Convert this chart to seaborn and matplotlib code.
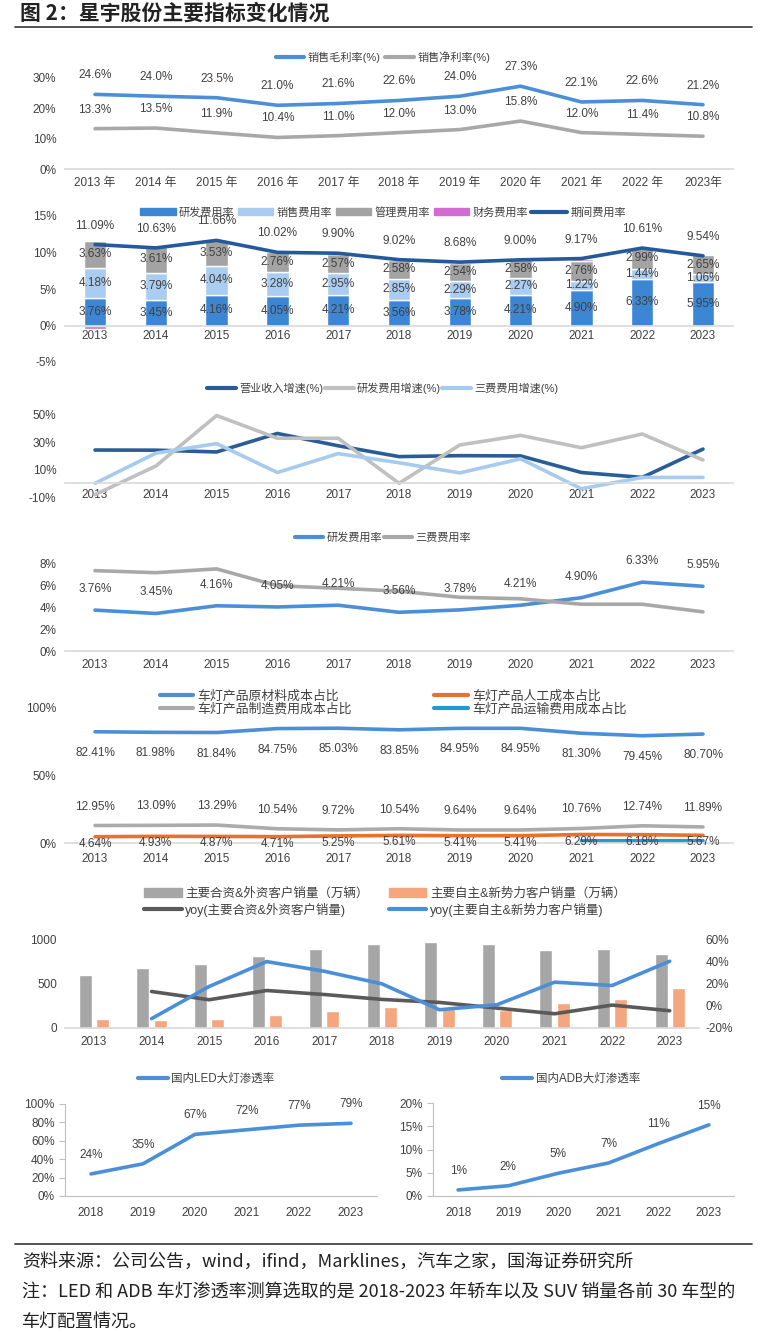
import numpy as np
import pandas as pd
import matplotlib
matplotlib.use('Agg')
import matplotlib.pyplot as plt
import seaborn as sns
from matplotlib.lines import Line2D
from matplotlib.patches import Patch

sns.set_style('white')
FONTS = ['Liberation Sans Narrow', 'Liberation Sans', 'Noto Sans CJK SC', 'DejaVu Sans']
plt.rcParams['font.family'] = FONTS
plt.rcParams['axes.unicode_minus'] = False

W, H = 766, 1332
TXT = '#404040'
AXC = '#D9D9D9'

# ---------------- data ----------------
years = ['2013', '2014', '2015', '2016', '2017', '2018', '2019', '2020', '2021', '2022', '2023']
years_cn = ['2013 年', '2014 年', '2015 年', '2016 年', '2017 年', '2018 年', '2019 年',
            '2020 年', '2021 年', '2022 年', '2023年']

# panel 1: margins
gross_margin = [24.6, 24.0, 23.5, 21.0, 21.6, 22.6, 24.0, 27.3, 22.1, 22.6, 21.2]
net_margin = [13.3, 13.5, 11.9, 10.4, 11.0, 12.0, 13.0, 15.8, 12.0, 11.4, 10.8]

# panel 2: expense ratios
rd_rate = [3.76, 3.45, 4.16, 4.05, 4.21, 3.56, 3.78, 4.21, 4.90, 6.33, 5.95]
sales_rate = [4.18, 3.79, 4.04, 3.28, 2.95, 2.85, 2.29, 2.27, 1.22, 1.44, 1.06]
admin_rate = [3.63, 3.61, 3.53, 2.76, 2.57, 2.58, 2.54, 2.58, 2.76, 2.99, 2.65]
fin_rate = [-0.48, -0.22, -0.07, -0.07, 0.17, 0.03, 0.07, -0.06, 0.29, -0.15, -0.12]
period_rate = [11.09, 10.63, 11.66, 10.02, 9.90, 9.02, 8.68, 9.00, 9.17, 10.61, 9.54]

# panel 3: growth
rev_growth = [24.3, 24.2, 22.9, 36.4, 27.4, 19.5, 20.2, 20.0, 7.9, 4.3, 25.0]
rd_growth = [-8.3, 12.6, 49.5, 32.9, 32.9, 0.0, 28.0, 35.0, 26.0, 36.0, 17.0]
fee_growth = [0.0, 22.0, 29.0, 7.9, 21.7, 15.0, 7.6, 17.9, -4.0, 4.3, 4.3]

# panel 4: R&D rate vs three-fee rate
three_fee_rate = [7.39, 7.20, 7.55, 6.00, 5.77, 5.50, 4.94, 4.80, 4.30, 4.30, 3.60]

# panel 5: lamp cost structure
raw_share = [82.41, 81.98, 81.84, 84.75, 85.03, 83.85, 84.95, 84.95, 81.30, 79.45, 80.70]
manuf_share = [12.95, 13.09, 13.29, 10.54, 9.72, 10.54, 9.64, 9.64, 10.76, 12.74, 11.89]
labor_share = [4.64, 4.93, 4.87, 4.71, 5.25, 5.61, 5.41, 5.41, 6.29, 6.18, 5.67]
transport_years = ['2021', '2022', '2023']
transport_share = [1.65, 1.63, 1.74]

# panel 6: customer sales
jv_sales = [593, 675, 716, 810, 892, 940, 970, 940, 877, 884, 836]
local_sales = [97, 90, 104, 146, 190, 231, 213, 205, 276, 325, 455]
yoy_years = ['2014', '2015', '2016', '2017', '2018', '2019', '2020', '2021', '2022', '2023']
jv_yoy = [12.8, 5.4, 13.7, 10.1, 5.7, 3.0, -2.1, -7.2, 0.6, -4.5]
local_yoy = [-11.6, 17.3, 39.7, 31.0, 19.7, -3.6, 0.9, 21.2, 18.2, 40.0]

# panel 7: penetration
pen_years = ['2018', '2019', '2020', '2021', '2022', '2023']
led_pen = [24, 35, 67, 72, 77, 79]
adb_pen = [1.3, 2.2, 4.9, 7.1, 11.3, 15.3]
adb_labels = ['1%', '2%', '5%', '7%', '11%', '15%']

# ---------------- helpers ----------------
fig = plt.figure(figsize=(W / 100, H / 100), dpi=100)


def px_axes(x0, y0, x1, y1):
    return fig.add_axes([x0 / W, 1 - y1 / H, (x1 - x0) / W, (y1 - y0) / H])


def base_style(ax, cats, ylim, yticks, fmt='{:.0f}%', zero_spine=False):
    n = len(cats)
    ax.set_xlim(-0.5, n - 0.5)
    ax.set_ylim(*ylim)
    ax.set_xticks(np.arange(n))
    ax.set_xticklabels(cats)
    ax.set_yticks(yticks)
    ax.set_yticklabels([fmt.format(v) for v in yticks])
    for s in ['top', 'right', 'left']:
        ax.spines[s].set_visible(False)
    ax.spines['bottom'].set_color(AXC)
    ax.spines['bottom'].set_linewidth(1.2)
    if zero_spine:
        ax.spines['bottom'].set_position(('data', 0))
    ax.tick_params(axis='both', length=0, labelsize=8.5, labelcolor=TXT, pad=6)
    ax.set_xlabel('')
    ax.set_ylabel('')
    ax.grid(False)


def label_points(ax, xs, ys, texts, dy, size=8.5):
    for x, y, t in zip(xs, ys, texts):
        ax.annotate(t, (x, y), xytext=(0, dy), textcoords='offset pixels',
                    ha='center', va='center', fontsize=size, color=TXT)


def top_legend(ax, handles, labels, x, y, ncol, size=8, hl=2.6, cs=0.4, rs=0.25):
    ax.legend(handles, labels, loc='center', bbox_to_anchor=(x / W, 1 - y / H),
              bbox_transform=fig.transFigure, ncol=ncol, frameon=False,
              fontsize=size, handlelength=hl, handletextpad=0.3,
              columnspacing=cs, labelspacing=rs, labelcolor=TXT)


LW = 2.6
BLUE = '#4A8FD8'
GRAY = '#A8A8A8'
xp = np.arange(len(years))

# ---------------- title ----------------
fig.text(20 / W, 1 - 13 / H, '图 2：星宇股份主要指标变化情况', fontsize=15, fontweight='bold',
         color='#222222', va='center', ha='left', family=['Noto Sans CJK SC', 'DejaVu Sans'])
fig.add_artist(Line2D([15 / W, 752 / W], [1 - 27 / H] * 2, color='#444444', lw=1.3))

# ---------------- panel 1 ----------------
ax1 = px_axes(64.6, 78, 733.4, 169)
sns.lineplot(x=xp, y=gross_margin, ax=ax1, color=BLUE, lw=LW)
sns.lineplot(x=xp, y=net_margin, ax=ax1, color=GRAY, lw=LW)
base_style(ax1, years_cn, (0, 30), [0, 10, 20, 30])
label_points(ax1, xp, gross_margin, [f'{v:.1f}%' for v in gross_margin], 19)
label_points(ax1, xp, net_margin, [f'{v:.1f}%' for v in net_margin], 19)
top_legend(ax1, [Line2D([], [], color=BLUE, lw=3), Line2D([], [], color=GRAY, lw=3)],
           ['销售毛利率(%)', '销售净利率(%)'], 383, 57, 2)

# ---------------- panel 2 ----------------
C_RD, C_SA, C_AD, C_FI, C_PE = '#3D86D4', '#A9CCF0', '#A3A3A3', '#D46BD0', '#245A9C'
ax2 = px_axes(64.6, 216, 733.4, 362)
bw = 0.37
sns.barplot(x=years, y=rd_rate, ax=ax2, color=C_RD, width=bw, errorbar=None, saturation=1)
sns.barplot(x=years, y=sales_rate, ax=ax2, color=C_SA, width=bw, errorbar=None, saturation=1,
            bottom=np.array(rd_rate))
sns.barplot(x=years, y=admin_rate, ax=ax2, color=C_AD, width=bw, errorbar=None, saturation=1,
            bottom=np.array(rd_rate) + np.array(sales_rate))
fin_bottom = np.where(np.array(fin_rate) > 0,
                      np.array(rd_rate) + np.array(sales_rate) + np.array(admin_rate), 0)
sns.barplot(x=years, y=fin_rate, ax=ax2, color=C_FI, width=bw, errorbar=None, saturation=1,
            bottom=fin_bottom)
sns.lineplot(x=xp, y=period_rate, ax=ax2, color=C_PE, lw=LW)
base_style(ax2, years, (-5, 15), [-5, 0, 5, 10, 15], zero_spine=True)
ax2.tick_params(axis='x', pad=3)
rd_a, sa_a, ad_a = np.array(rd_rate), np.array(sales_rate), np.array(admin_rate)
label_points(ax2, xp, rd_a / 2, [f'{v:.2f}%' for v in rd_rate], 0)
label_points(ax2, xp, rd_a + sa_a / 2, [f'{v:.2f}%' for v in sales_rate], 0)
label_points(ax2, xp, rd_a + sa_a + ad_a / 2, [f'{v:.2f}%' for v in admin_rate], 0)
label_points(ax2, xp, period_rate, [f'{v:.2f}%' for v in period_rate], 19)
top_legend(ax2, [Patch(color=C_RD), Patch(color=C_SA), Patch(color=C_AD), Patch(color=C_FI),
                 Line2D([], [], color=C_PE, lw=3)],
           ['研发费用率', '销售费用率', '管理费用率', '财务费用率', '期间费用率'], 383, 212, 5,
           hl=3.2, cs=0.3)

# ---------------- panel 3 ----------------
C_REV, C_RDG, C_FEE = '#2A5C96', '#C0C0C0', '#A6CBEE'
ax3 = px_axes(64.6, 408, 733.4, 497)
sns.lineplot(x=xp, y=rev_growth, ax=ax3, color=C_REV, lw=LW)
sns.lineplot(x=xp, y=rd_growth, ax=ax3, color=C_RDG, lw=LW)
sns.lineplot(x=xp, y=fee_growth, ax=ax3, color=C_FEE, lw=LW)
base_style(ax3, years, (-10, 55), [-10, 10, 30, 50], zero_spine=True)
ax3.tick_params(axis='x', pad=4)
top_legend(ax3, [Line2D([], [], color=c, lw=3) for c in (C_REV, C_RDG, C_FEE)],
           ['营业收入增速(%)', '研发费用增速(%)', '三费费用增速(%)'], 383, 388, 3, cs=0.1)

# ---------------- panel 4 ----------------
ax4 = px_axes(64.6, 564, 733.4, 651)
sns.lineplot(x=xp, y=rd_rate, ax=ax4, color=BLUE, lw=LW)
sns.lineplot(x=xp, y=three_fee_rate, ax=ax4, color=GRAY, lw=LW)
base_style(ax4, years, (0, 8), [0, 2, 4, 6, 8])
label_points(ax4, xp, rd_rate, [f'{v:.2f}%' for v in rd_rate], 21)
top_legend(ax4, [Line2D([], [], color=BLUE, lw=3), Line2D([], [], color=GRAY, lw=3)],
           ['研发费用率', '三费费用率'], 383, 538, 2, cs=0.1)

# ---------------- panel 5 ----------------
C_RAW, C_LAB, C_MAN, C_TRA = '#4A8FD8', '#E8712B', '#ABABAB', '#1F9AD6'
ax5 = px_axes(64.6, 708, 733.4, 843)
sns.lineplot(x=xp, y=raw_share, ax=ax5, color=C_RAW, lw=LW)
sns.lineplot(x=xp, y=manuf_share, ax=ax5, color=C_MAN, lw=LW)
sns.lineplot(x=xp, y=labor_share, ax=ax5, color=C_LAB, lw=LW)
sns.lineplot(x=[years.index(y) for y in transport_years], y=transport_share, ax=ax5,
             color=C_TRA, lw=LW)
base_style(ax5, years, (0, 100), [0, 50, 100])
ax5.tick_params(axis='x', pad=7)
label_points(ax5, xp, raw_share, [f'{v:.2f}%' for v in raw_share], -21)
label_points(ax5, xp, manuf_share, [f'{v:.2f}%' for v in manuf_share], 19)
label_points(ax5, xp, labor_share, [f'{v:.2f}%' for v in labor_share], -7)
top_legend(ax5, [Line2D([], [], color=c, lw=3) for c in (C_RAW, C_MAN, C_LAB, C_TRA)],
           ['车灯产品原材料成本占比', '车灯产品制造费用成本占比', '车灯产品人工成本占比',
            '车灯产品运输费用成本占比'], 393, 703, 2, size=9.3, cs=6.4, rs=0.05)

# ---------------- panel 6 ----------------
C_JV, C_LO, C_JVY = '#A6A6A6', '#F4A67F', '#5A5A5A'
ax6 = px_axes(65.2, 939, 698.5, 1028)
sales_df = pd.DataFrame({
    'year': years * 2,
    'group': ['jv'] * len(years) + ['local'] * len(years),
    'value': jv_sales + local_sales,
})
sns.barplot(data=sales_df, x='year', y='value', hue='group', ax=ax6,
            palette={'jv': C_JV, 'local': C_LO}, width=0.6, gap=0.25,
            errorbar=None, saturation=1, legend=False)
base_style(ax6, years, (0, 1000), [0, 500, 1000], fmt='{:.0f}')
ax6r = ax6.twinx()
yx = [years.index(y) for y in yoy_years]
sns.lineplot(x=yx, y=jv_yoy, ax=ax6r, color=C_JVY, lw=LW)
sns.lineplot(x=yx, y=local_yoy, ax=ax6r, color=BLUE, lw=LW)
ax6r.set_xlim(-0.5, len(years) - 0.5)
ax6r.set_ylim(-20, 60)
ax6r.set_yticks([-20, 0, 20, 40, 60])
ax6r.set_yticklabels([f'{v}%' for v in [-20, 0, 20, 40, 60]])
for s in ['top', 'right', 'left', 'bottom']:
    ax6r.spines[s].set_visible(False)
ax6r.tick_params(axis='y', length=0, labelsize=8.5, labelcolor=TXT, pad=5)
ax6r.set_ylabel('')
ax6r.grid(False)
top_legend(ax6r, [Patch(color=C_JV), Line2D([], [], color=C_JVY, lw=3), Patch(color=C_LO),
                  Line2D([], [], color=BLUE, lw=3)],
           ['主要合资&外资客户销量（万辆）', 'yoy(主要合资&外资客户销量)',
            '主要自主&新势力客户销量（万辆）', 'yoy(主要自主&新势力客户销量)'],
           385, 902, 2, size=9, cs=1.6, rs=0.25, hl=3.0)


# ---------------- panel 7 ----------------
def pen_style(ax, ylim, yticks):
    n = len(pen_years)
    ax.set_xlim(-0.5, n - 0.5)
    ax.set_ylim(*ylim)
    ax.set_xticks(np.arange(n))
    ax.set_xticklabels(pen_years)
    ax.set_xticks(np.arange(-0.5, n, 1), minor=True)
    ax.set_yticks(yticks)
    ax.set_yticklabels([f'{v}%' for v in yticks])
    for s in ['top', 'right']:
        ax.spines[s].set_visible(False)
    for s in ['left', 'bottom']:
        ax.spines[s].set_color('#BFBFBF')
    ax.tick_params(axis='x', which='major', length=0, labelsize=8.5, labelcolor=TXT, pad=8)
    ax.tick_params(axis='x', which='minor', length=4, color='#BFBFBF', direction='out')
    ax.tick_params(axis='y', length=4, color='#BFBFBF', labelsize=8.5, labelcolor=TXT,
                   direction='out', left=True)
    ax.set_xlabel('')
    ax.set_ylabel('')
    ax.grid(False)


px = np.arange(len(pen_years))
ax7 = px_axes(65, 1104, 377, 1196)
sns.lineplot(x=px, y=led_pen, ax=ax7, color=BLUE, lw=LW)
pen_style(ax7, (0, 100), [0, 20, 40, 60, 80, 100])
label_points(ax7, px, led_pen, [f'{v}%' for v in led_pen], 19)
top_legend(ax7, [Line2D([], [], color=BLUE, lw=3)], ['国内LED大灯渗透率'], 206, 1079, 1, size=8.3)

ax8 = px_axes(433, 1103, 734, 1196)
sns.lineplot(x=px, y=adb_pen, ax=ax8, color=BLUE, lw=LW)
pen_style(ax8, (0, 20), [0, 5, 10, 15, 20])
label_points(ax8, px, adb_pen, adb_labels, 19)
top_legend(ax8, [Line2D([], [], color=BLUE, lw=3)], ['国内ADB大灯渗透率'], 571, 1079, 1, size=8.3)

# ---------------- footer ----------------
fig.add_artist(Line2D([15 / W, 752 / W], [1 - 1244 / H] * 2, color='#444444', lw=1.3))
foot = ['资料来源：公司公告，wind，ifind，Marklines，汽车之家，国海证券研究所',
        '注：LED 和 ADB 车灯渗透率测算选取的是 2018-2023 年轿车以及 SUV 销量各前 30 车型的',
        '车灯配置情况。']
for i, t in enumerate(foot):
    fig.text(22 / W, 1 - (1262 + 30 * i) / H, t, fontsize=13, color='#222222', va='center',
             ha='left', family=['Liberation Sans Narrow', 'Noto Sans CJK SC'])

fig.savefig('out.png', dpi=100)
